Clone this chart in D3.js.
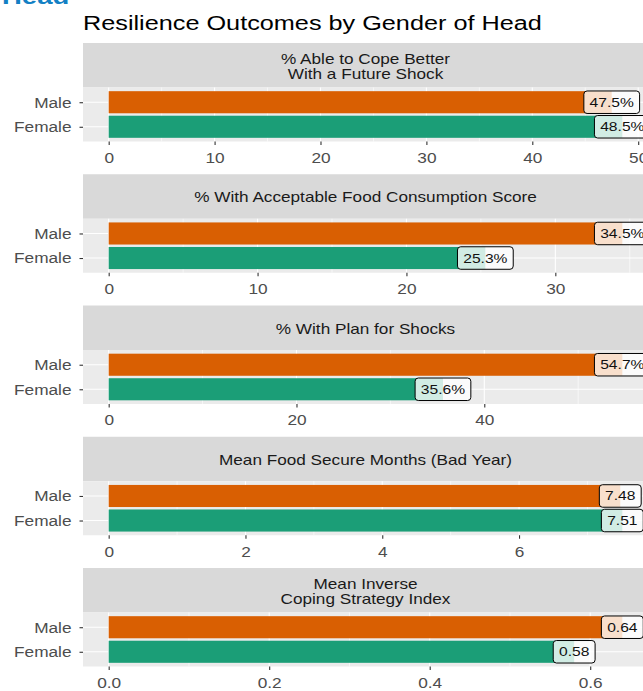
<!DOCTYPE html>
<html><head><meta charset="utf-8">
<script src="https://cdn.jsdelivr.net/npm/d3@7"></script>
<style>body{margin:0;background:#fff} svg{display:block}</style>
</head><body>
<svg id="c" width="643" height="691"></svg>
<script>
const panelTitles = [
  "% Able to Cope Better\nWith a Future Shock",
  "% With Acceptable Food Consumption Score",
  "% With Plan for Shocks",
  "Mean Food Secure Months (Bad Year)",
  "Mean Inverse\nCoping Strategy Index"
];
const genders = ["Male", "Female"];
const maleValues = [47.5, 34.5, 54.7, 7.48, 0.64];
const femaleValues = [48.5, 25.3, 35.6, 7.51, 0.58];
const valueSuffix = ["%", "%", "%", "", ""];
const labelDigits = [1, 1, 1, 2, 2];
const tickValues = [[0,10,20,30,40,50],[0,10,20,30],[0,20,40],[0,2,4,6],[0,0.2,0.4,0.6]];
const tickLabels = [["0","10","20","30","40","50"],["0","10","20","30"],["0","20","40"],["0","2","4","6"],["0.0","0.2","0.4","0.6"]];
const mainTitle = "Resilience Outcomes by Gender of Head";
const headerFragment = "Head";
const colors = {Male: "#D95F02", Female: "#1B9E77"};

const K = 1.25;
const FONT = "'Liberation Sans', Arial, Helvetica, sans-serif";
const PL = 83, PR = 648, TOP0 = 43, STEP = 131.25, STRIP_H = 44.5, PANEL_H = 54;

const svg = d3.select("#c").attr("font-family", FONT);

function stretchAt(sel, x, y) {
  sel.attr("transform", `translate(${x},${y}) scale(${K},1)`);
}

// cut-off header
svg.append("text").text(headerFragment)
  .attr("font-size", 22).attr("font-weight", "bold").attr("fill", "#1380C4")
  .call(s => stretchAt(s, 2, 3.5));

// title
svg.append("text").text(mainTitle)
  .attr("font-size", 20.2).attr("fill", "#000")
  .call(s => stretchAt(s, 83, 29.5));

panelTitles.forEach((title, i) => {
  const top = TOP0 + i * STEP;
  const pTop = top + STRIP_H;
  const pBot = pTop + PANEL_H;
  const g = svg.append("g");

  // strip
  g.append("rect").attr("x", PL).attr("y", top).attr("width", PR - PL).attr("height", STRIP_H).attr("fill", "#D9D9D9");
  const lines = title.split("\n");
  const cx = (PL + PR) / 2;
  const cy = top + STRIP_H / 2 + 1;
  const lh = 15;
  lines.forEach((ln, j) => {
    const yy = cy + (j - (lines.length - 1) / 2) * lh + 4.8;
    g.append("text").text(ln).attr("font-size", 13.75).attr("fill", "#1A1A1A")
      .attr("text-anchor", "middle").call(s => stretchAt(s, cx, yy));
  });

  // panel
  g.append("rect").attr("x", PL).attr("y", pTop).attr("width", PR - PL).attr("height", PANEL_H).attr("fill", "#EBEBEB");

  const M = Math.max(maleValues[i], femaleValues[i]);
  const x = d3.scaleLinear().domain([-0.05 * M, 1.05 * M]).range([PL, PR]);
  const y = d3.scalePoint().domain(genders).range([pTop, pBot]).padding(0.6);
  const step = y.step();
  const [d0, d1] = x.domain();

  const ticks = tickValues[i];
  const iv = ticks[1] - ticks[0];
  const minor = ticks.map(t => t + iv / 2).filter(t => t > d0 && t < d1);

  const grid = g.append("g");
  grid.selectAll(".mn").data(minor).join("line")
    .attr("x1", d => x(d)).attr("x2", d => x(d)).attr("y1", pTop).attr("y2", pBot)
    .attr("stroke", "#fff").attr("stroke-width", 0.6);
  grid.selectAll(".mj").data(ticks).join("line")
    .attr("x1", d => x(d)).attr("x2", d => x(d)).attr("y1", pTop).attr("y2", pBot)
    .attr("stroke", "#fff").attr("stroke-width", 1.1);
  grid.selectAll(".hy").data(genders).join("line")
    .attr("x1", PL).attr("x2", PR).attr("y1", d => y(d)).attr("y2", d => y(d))
    .attr("stroke", "#fff").attr("stroke-width", 1.1);

  const vals = [{g: "Male", v: maleValues[i]}, {g: "Female", v: femaleValues[i]}];

  g.selectAll(".bar").data(vals).join("rect")
    .attr("x", x(0)).attr("width", d => x(d.v) - x(0))
    .attr("y", d => y(d.g) - 0.45 * step).attr("height", 0.9 * step)
    .attr("fill", d => colors[d.g]);

  // labels
  vals.forEach(d => {
    const lg = g.append("g").attr("transform", `translate(${x(d.v)},${y(d.g)})`);
    const rect = lg.append("rect");
    const t = lg.append("text").text(d.v.toFixed(labelDigits[i]) + valueSuffix[i])
      .attr("font-size", 12.5).attr("fill", "#111").attr("text-anchor", "middle")
      .attr("dy", "0.36em").attr("transform", `scale(${K},1)`);
    const w = t.node().getComputedTextLength() * K + 11.5;
    const h = 22.5;
    rect.attr("x", -w / 2).attr("y", -h / 2).attr("width", w).attr("height", h)
      .attr("rx", 3.2).attr("fill", "#fff").attr("fill-opacity", 0.8)
      .attr("stroke", "#000").attr("stroke-width", 1);
    t.raise();
  });

  // x axis
  const xa = g.append("g").attr("transform", `translate(0,${pBot})`)
    .call(d3.axisBottom(x).tickValues(ticks).tickFormat((d, j) => tickLabels[i][j]).tickSize(3.5));
  xa.select(".domain").remove();
  xa.selectAll(".tick line").attr("stroke", "#333").attr("stroke-width", 1.1);
  xa.selectAll(".tick text").attr("fill", "#4D4D4D").attr("font-size", 13.8)
    .attr("font-family", FONT).attr("y", 21.5).attr("dy", null)
    .attr("transform", `scale(${K},1)`);

  // y axis
  const ya = g.append("g").attr("transform", `translate(${PL},0)`)
    .call(d3.axisLeft(y).tickSize(3.5));
  ya.select(".domain").remove();
  ya.selectAll(".tick line").attr("stroke", "#333").attr("stroke-width", 1.1);
  ya.selectAll(".tick text").attr("fill", "#4D4D4D").attr("font-size", 13.8)
    .attr("font-family", FONT).attr("x", -11.5 / K).attr("dy", "0.36em")
    .attr("transform", `scale(${K},1)`);
});
</script>
</body></html>
